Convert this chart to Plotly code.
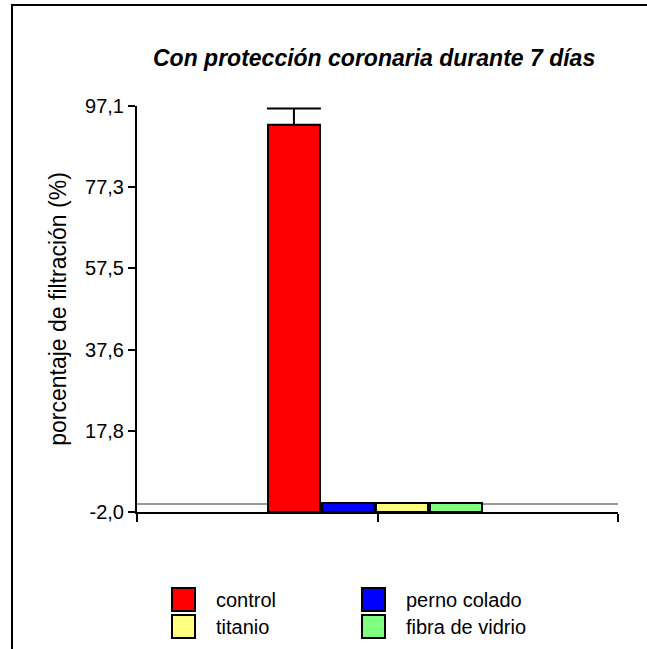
import plotly.graph_objects as go

# Data
categories = ["control", "perno colado", "titanio", "fibra de vidrio"]
values = [92.5, 0.3, 0.3, 0.3]
errors_up = [4.0, 0.0, 0.0, 0.0]
bar_colors = ["#FF0000", "#0000FF", "#FFFF80", "#80FF80"]
y_ticks = [-2.0, 17.8, 37.6, 57.5, 77.3, 97.1]
y_tick_labels = ["-2,0", "17,8", "37,6", "57,5", "77,3", "97,1"]

W, H = 647, 649
L, R, T, B = 137, 618, 106, 512  # plot area in pixels

FONT = "Arial, Liberation Sans, sans-serif"


def px_x(px):
    return (px - L) / (R - L)


def px_y(py):
    return (B - py) / (B - T)


y_min, y_max = y_ticks[0], y_ticks[-1]
group_center = 0.99
slot = 0.225
bar_w = 0.215

fig = go.Figure()
for i, (cat, val, err, col) in enumerate(zip(categories, values, errors_up, bar_colors)):
    kw = {}
    if err > 0:
        kw["error_y"] = dict(type="data", symmetric=False, array=[err],
                             arrayminus=[0], color="black", thickness=2, width=27)
    fig.add_trace(go.Bar(
        x=[group_center + (i - 1.5) * slot],
        y=[val - y_min],
        base=[y_min],
        width=[bar_w],
        marker=dict(color=col, line=dict(color="black", width=2)),
        name=cat,
        showlegend=False,
        **kw,
    ))

shapes = []
annotations = []

# Outer frame
shapes.append(dict(type="rect", xref="paper", yref="paper",
                   x0=px_x(12), x1=px_x(700), y0=px_y(700), y1=px_y(5),
                   line=dict(color="black", width=2), fillcolor="rgba(0,0,0,0)",
                   layer="above"))

# Legend boxes
sq_w, sq_h = 23, 23
col_x = [172, 362]
row_y = [588, 615]
text_dx = 42
for i, (cat, col) in enumerate(zip(categories, bar_colors)):
    c, r = i % 2, i // 2
    x0 = col_x[c]
    y0 = row_y[r]
    shapes.append(dict(type="rect", xref="paper", yref="paper",
                       x0=px_x(x0), x1=px_x(x0 + sq_w),
                       y0=px_y(y0 + sq_h), y1=px_y(y0),
                       fillcolor=col, line=dict(color="black", width=2)))
    annotations.append(dict(xref="paper", yref="paper", x=px_x(x0 + text_dx),
                            y=px_y(y0 + sq_h / 2), xanchor="left", yanchor="middle",
                            text=cat, showarrow=False,
                            font=dict(family=FONT, size=20, color="black")))

# Title
annotations.append(dict(xref="paper", yref="paper", x=px_x(374), y=px_y(58),
                        xanchor="center", yanchor="middle",
                        text="<b><i>Con protección coronaria durante 7 días</i></b>",
                        showarrow=False,
                        font=dict(family=FONT, size=23, color="black")))

fig.update_layout(
    width=W, height=H,
    margin=dict(l=L, r=W - R, t=T, b=H - B, pad=0),
    paper_bgcolor="white", plot_bgcolor="white",
    shapes=shapes, annotations=annotations,
    bargap=0,
    xaxis=dict(range=[0, 2], tickvals=[0, 1, 2], showticklabels=False,
               ticks="outside", ticklen=8, tickwidth=2, tickcolor="black",
               showline=True, linecolor="black", linewidth=2,
               showgrid=False, zeroline=False, fixedrange=True),
    yaxis=dict(range=[y_min, y_max], tickvals=y_ticks, ticktext=y_tick_labels,
               ticks="outside", ticklen=7, tickwidth=2, tickcolor="black",
               showline=True, linecolor="black", linewidth=2,
               showgrid=False, zeroline=True, zerolinecolor="#999999", zerolinewidth=2,
               tickfont=dict(family=FONT, size=20, color="black"),
               title=dict(text="porcentaje de filtración (%)", standoff=12,
                          font=dict(family=FONT, size=23, color="black")),
               fixedrange=True),
    showlegend=False,
)

fig.write_html("out.html")
